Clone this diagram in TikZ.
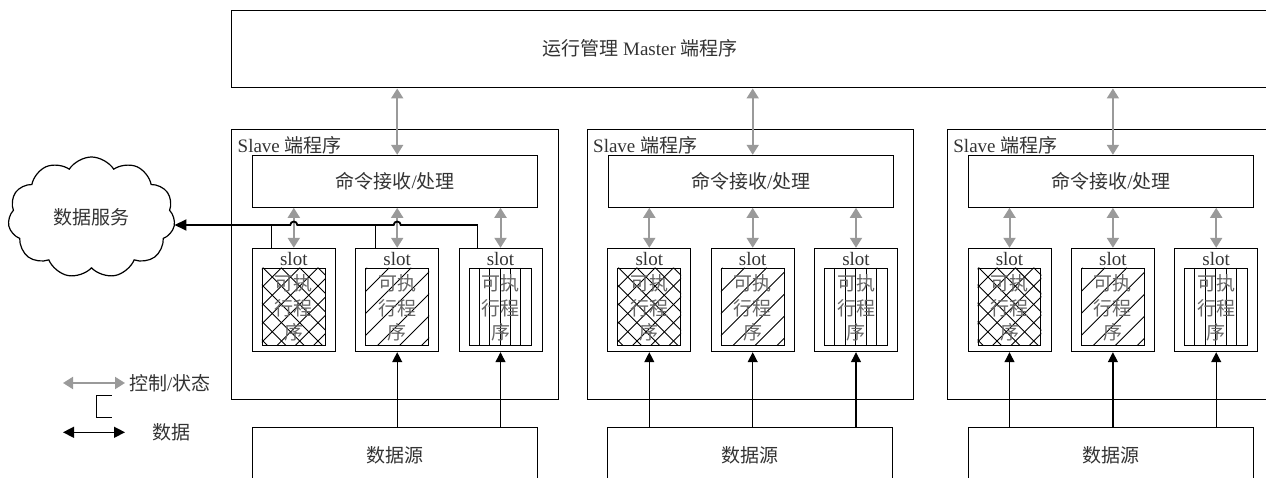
\documentclass[tikz,border=0pt]{standalone}
\usepackage{fontspec}
\setmainfont{Liberation Serif}
\newfontfamily\cjk{Noto Sans CJK SC}
\usetikzlibrary{arrows.meta,shapes.symbols}
\definecolor{ctrl}{HTML}{9A9A9A}
\definecolor{txt}{HTML}{333333}
\definecolor{innertxt}{HTML}{666666}
\tikzset{
  box/.style={draw=black, line width=1pt, rectangle, inner sep=0pt},
  lbl/.style={font=\fontsize{19}{23}\selectfont, text=txt},
  ctrlarrow/.style={draw=ctrl, line width=2pt, {Triangle[length=10pt,width=12pt]}-{Triangle[length=10pt,width=12pt]}},
  dataarrow/.style={draw=black, line width=1.2pt, -{Triangle[length=10pt,width=10pt]}},
  datadbl/.style={draw=black, line width=1.4pt, {Triangle[length=11pt,width=11pt]}-{Triangle[length=11pt,width=11pt]}},
  hatchline/.style={draw=black, line width=0.9pt},
  thinline/.style={draw=black, line width=1pt},
  busline/.style={draw=black, line width=1.8pt},
}
\newcommand\slaveunit[3]{%
\begin{scope}[xshift=#2pt]
  \node[box, minimum width=326.8, minimum height=270] (#1slave) at (394.9,264.3) {};
  \node[lbl, anchor=base west, inner sep=0pt] (#1title) at (237.5,152.5) {Slave {\cjk 端程序}};
  \node[box, lbl, minimum width=285, minimum height=52] (#1cmd) at (395.2,181.3) {{\cjk 命令接收}/{\cjk 处理}};
  \foreach \i/\cx in {1/293.8,2/397.2,3/500.5}{
    \node[box, minimum width=83, minimum height=103.4] (#1s\i) at (\cx,300) {};
    \node[lbl, anchor=base, inner sep=0pt] (#1sl\i) at (\cx,265.3) {slot};
    \node[box, minimum width=62.7, minimum height=76.7] (#1in\i) at (\cx,306.65) {};
    \draw[ctrlarrow] (#1cmd.south -| #1s\i.north) -- (#1s\i.north);
  }
  \begin{scope}
    \clip (#1in1.north west) rectangle (#1in1.south east);
    \foreach \t in {-122.2,-103.9,...,120}{
      \draw[hatchline] ([xshift=\t pt]#1in1.north) -- ++(90,90);
      \draw[hatchline] ([xshift=\t pt]#1in1.north) -- ++(-90,90);
    }
  \end{scope}
  \begin{scope}
    \clip (#1in2.north west) rectangle (#1in2.south east);
    \foreach \t in {-30,-8,...,120}{
      \draw[hatchline] ([xshift=\t pt]#1in2.north) -- ++(-90,90);
    }
  \end{scope}
  \foreach \k in {1,...,5}{
    \draw[hatchline] ([xshift={\k*10.45pt}]#1in3.north west) -- ([xshift={\k*10.45pt}]#1in3.south west);
  }
  \foreach \i in {1,2,3}{
    \node[lbl, text=innertxt, align=center, inner sep=0pt, font={\cjk\fontsize{19}{24.5}\selectfont}] (#1it\i) at ([yshift=-1.5pt]#1in\i.center) {可执\\行程\\序};
  }
  \node[box, lbl, minimum width=285, minimum height=54.6] (#1ds) at (394.8,455) {{\cjk 数据源}};
  \foreach \i in {#3}{
    \draw[dataarrow] (#1ds.north -| #1s\i.south) -- (#1s\i.south);
  }
  \draw[ctrlarrow] (master.south -| #1s2.north) -- (#1cmd.north -| #1s2.north);
\end{scope}}
\begin{document}
\begin{tikzpicture}[x=1pt,y=-1pt]
  \path[use as bounding box] (0,0) rectangle (1266,478);
  \clip (0,0) rectangle (1266,478);
  % master
  \node[box, minimum width=1070, minimum height=77.3] (master) at (766.5,49.35) {};
  \node[lbl] (mtxt) at (640,48) {{\cjk 运行管理} Master {\cjk 端程序}};
  % slaves
  \slaveunit{A}{0}{2,3}
  \slaveunit{B}{355.5}{1,2,3}
  \slaveunit{C}{715.7}{1,2,3}
  % cloud
  \node[cloud, draw=black, line width=1.2pt, cloud puffs=11, cloud puff arc=115, cloud ignores aspect,
        minimum width=167, minimum height=121, lbl] (cloud) at (91.5,217.5) {{\cjk 数据服务}};
  % data bus of first slave
  \coordinate (bus) at (0,225);
  \coordinate (v1) at ([xshift=20pt]As1.north west);
  \coordinate (v2) at ([xshift=20pt]As2.north west);
  \coordinate (v3) at ([xshift=19.3pt]As3.north west);
  \coordinate (j1) at (As1.north |- bus);
  \coordinate (j2) at (As2.north |- bus);
  \draw[thinline] (v1) -- (v1 |- bus);
  \draw[thinline] (v2) -- (v2 |- bus);
  \draw[thinline] (v3) -- (v3 |- bus);
  \draw[busline, -{Triangle[length=12pt,width=11pt]}] (v3 |- bus) -- ([xshift=3.5pt]j2)
     arc[start angle=0, end angle=180, radius=3.5pt] -- ([xshift=3.5pt]j1)
     arc[start angle=0, end angle=180, radius=3.5pt] -- (cloud.east |- bus);
  % legend
  \coordinate (g1) at (63,383);
  \coordinate (g2) at (125,383);
  \draw[ctrlarrow] (g1) -- (g2);
  \node[lbl, anchor=west, inner sep=0pt] (lg1) at (129,383) {{\cjk 控制}/{\cjk 状态}};
  \draw[thinline] (111.7,395) -- (96.7,395) -- (96.7,417.7) -- (111.7,417.7);
  \coordinate (d1) at (63,432.3);
  \coordinate (d2) at (125,432.3);
  \draw[datadbl] (d1) -- (d2);
  \node[lbl, anchor=west, inner sep=0pt] (lg2) at (152,432.3) {{\cjk 数据}};
\end{tikzpicture}
\end{document}
